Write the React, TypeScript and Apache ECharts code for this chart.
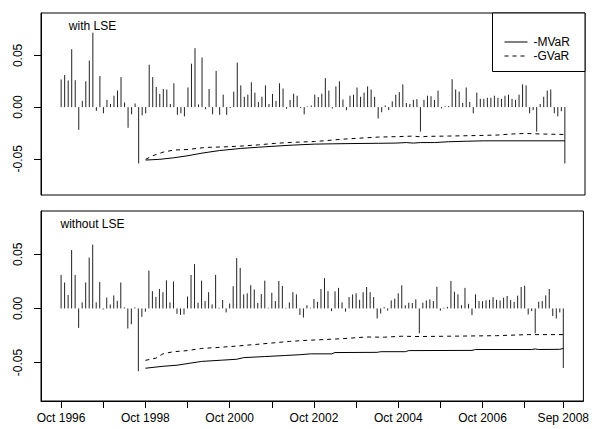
import React, { useEffect, useRef } from "react";
import * as echarts from "echarts";

// Monthly returns, Oct 1996 (index 0) .. Sep 2008 (index 143)
const withLSE: number[] = [
  0.0267, 0.031, 0.0257, 0.056, 0.026, -0.022, 0.006, 0.025, 0.045, 0.072,
  -0.0036, 0.03, -0.006, 0.007, 0.003, 0.011, 0.016, 0.029, 0.0045, -0.02,
  -0.007, 0.0035, -0.0546, -0.008, -0.006, 0.041, 0.029, 0.0195, 0.0127, 0.0175,
  0.017, 0.003, 0.023, -0.0075, -0.006, -0.009, 0.019, 0.042, 0.057, 0.0026,
  0.048, -0.002, 0.0175, -0.007, 0.035, -0.0075, 0.012, -0.0075, -0.001, 0.015,
  0.043, 0.021, 0.01, 0.012, 0.024, 0.014, 0.005, 0.01, 0.021, 0.003,
  0.0127, 0.006, 0.023, 0.018, -0.0016, 0.007, 0.013, 0.011, -0.001, -0.007,
  0.0006, 0.0016, 0.012, 0.0097, 0.013, 0.028, 0.016, -0.0013, 0.02, 0.025,
  0.0074, -0.003, 0.011, 0.012, 0.019, 0.01, 0.014, 0.02, 0.017, 0.01,
  -0.011, -0.005, 0.0016, -0.003, 0.0055, 0.012, 0.0145, 0.022, 0.004, 0.003,
  0.007, 0.0077, -0.0237, 0.007, 0.011, 0.0106, 0.007, 0.016, -0.0013, 0.0006,
  0.001, 0.027, 0.017, 0.015, 0.004, 0.019, 0.005, -0.006, 0.014, 0.008,
  0.008, 0.009, 0.009, 0.011, 0.009, 0.008, 0.011, 0.012, 0.008, 0.007,
  0.012, 0.022, 0.021, -0.006, -0.003, -0.0237, 0.003, 0.01, 0.016, 0.017,
  -0.006, -0.009, -0.004, -0.0546,
];

const withoutLSE: number[] = [
  0.031, 0.024, 0.0124, 0.054, 0.031, -0.018, 0.0056, 0.024, 0.047, 0.059,
  0.0056, 0.0245, -0.001, 0.01, 0.0037, 0.012, 0.007, 0.024, 0.001, -0.0186,
  -0.0146, 0.001, -0.058, -0.0078, -0.003, 0.035, 0.016, 0.0105, 0.018, 0.015,
  0.026, 0.0056, 0.025, -0.005, -0.006, -0.0056, 0.011, 0.031, 0.041, 0.0053,
  0.0257, 0.0068, 0.015, 0.0037, 0.031, 0.0006, 0.0078, -0.0037, 0.0045, 0.0205,
  0.0465, 0.0375, 0.013, 0.014, 0.0215, 0.0175, 0.005, 0.0133, 0.0257, 0.0006,
  0.0145, 0.0068, 0.0254, 0.0208, 0.0006, 0.0056, 0.015, 0.013, -0.006, -0.0084,
  0.003, 0.0006, 0.0087, 0.0062, 0.018, 0.028, 0.016, -0.0025, 0.0158, 0.019,
  0.0056, -0.003, 0.0105, 0.013, 0.014, 0.008, 0.015, 0.0198, 0.015, 0.0105,
  -0.0093, -0.0047, 0.0012, -0.002, 0.0074, 0.009, 0.014, 0.0214, 0.0028, 0.0053,
  0.005, 0.0084, -0.023, 0.0053, 0.0074, 0.0084, 0.0068, 0.02, -0.002, 0.0006,
  0.0015, 0.0255, 0.0155, 0.013, 0.003, 0.019, 0.0043, -0.0062, 0.013, 0.0068,
  0.0068, 0.0074, 0.008, 0.0105, 0.008, 0.0074, 0.0099, 0.0115, 0.0077, 0.006,
  0.0118, 0.0198, 0.021, -0.0056, -0.0025, -0.023, 0.0062, 0.0068, 0.012, 0.018,
  -0.0071, -0.0093, -0.0037, -0.055,
];

// [month index, value]
const withLSE_MVaR: [number, number][] = [
  [24, -0.0512], [28, -0.0505], [32, -0.049], [36, -0.047], [40, -0.0445],
  [45, -0.042], [51, -0.04], [56, -0.0388], [61, -0.0377], [66, -0.0367],
  [72, -0.0358], [77, -0.0355], [84, -0.0352], [90, -0.035], [95, -0.0348],
  [98, -0.0343], [100, -0.0348], [102, -0.0343], [106, -0.0343], [110, -0.0335],
  [115, -0.033], [120, -0.0326], [143, -0.0326],
];
const withLSE_GVaR: [number, number][] = [
  [24, -0.0505], [26, -0.047], [29, -0.0435], [32, -0.0415], [36, -0.041],
  [41, -0.039], [46, -0.0385], [51, -0.0377], [56, -0.0365], [61, -0.035],
  [66, -0.034], [72, -0.0333], [80, -0.031], [90, -0.029], [96, -0.0285],
  [100, -0.028], [102, -0.0288], [104, -0.0283], [110, -0.028], [118, -0.0275],
  [124, -0.027], [128, -0.026], [132, -0.0255], [136, -0.026], [143, -0.0265],
];
const withoutLSE_MVaR: [number, number][] = [
  [24, -0.0553], [29, -0.0535], [33, -0.0525], [37, -0.0505], [40, -0.049],
  [46, -0.0478], [50, -0.047], [52, -0.0455], [58, -0.0445], [64, -0.0435],
  [68, -0.0428], [71, -0.042], [77, -0.042], [78, -0.0408], [90, -0.0406],
  [91, -0.04], [98, -0.04], [99, -0.039], [117, -0.0388], [118, -0.038],
  [134, -0.038], [135, -0.0375], [136, -0.038], [142, -0.0378], [143, -0.037],
];
const withoutLSE_GVaR: [number, number][] = [
  [24, -0.048], [27, -0.046], [29, -0.042], [32, -0.04], [36, -0.039],
  [40, -0.037], [45, -0.036], [50, -0.0348], [55, -0.0334], [60, -0.032],
  [65, -0.0305], [70, -0.0295], [80, -0.028], [87, -0.0264], [92, -0.0266],
  [97, -0.0257], [102, -0.026], [110, -0.0257], [124, -0.0252], [133, -0.0242],
  [143, -0.0242],
];

const panelTitles = ["with LSE", "without LSE"];
const legendNames = ["-MVaR", "-GVaR"];
const yTicks = [-0.05, 0, 0.05];
const xTickMonths = [0, 12, 24, 36, 48, 60, 72, 84, 96, 108, 120, 132, 143];
const xLabelMonths = [0, 24, 48, 72, 96, 120, 143];
const xLabels = ["Oct 1996", "Oct 1998", "Oct 2000", "Oct 2002", "Oct 2004", "Oct 2006", "Sep 2008"];

const FONT = "Liberation Sans, Arial, Helvetica, sans-serif";

export default function App() {
  const ref = useRef<HTMLDivElement>(null);
  useEffect(() => {
    document.body.style.margin = "0";
    const chart = echarts.init(ref.current!, null, { renderer: "svg" });
    const nMonths = withLSE.length;
    const pad = (nMonths - 1) * 0.04;
    const xMin = -pad;
    const xMax = nMonths - 1 + pad;

    const spikes = (vals: number[], idx: number) => ({
      type: "custom",
      xAxisIndex: idx,
      yAxisIndex: idx,
      silent: true,
      data: vals.map((v, i) => [i, v]),
      renderItem: (params: any, api: any) => {
        const x = api.value(0);
        const v = api.value(1);
        const p0 = api.coord([x, 0]);
        const p1 = api.coord([x, v]);
        return {
          type: "line",
          shape: { x1: p0[0], y1: p0[1], x2: p1[0], y2: p1[1] },
          style: { stroke: "#222", lineWidth: 1 },
        };
      },
      z: 2,
    });
    const line = (name: string, data: [number, number][], idx: number, dashed: boolean) => ({
      type: "line",
      name,
      xAxisIndex: idx,
      yAxisIndex: idx,
      data,
      symbol: "none",
      silent: true,
      lineStyle: { color: "#000", width: 1, type: dashed ? [4, 4] : "solid" },
      itemStyle: { color: "#000" },
      z: 3,
    });

    const yAxis = (idx: number, min: number, max: number) => ({
      type: "value",
      gridIndex: idx,
      min,
      max,
      splitLine: { show: false },
      axisLine: { show: true, onZero: false, lineStyle: { color: "#000", width: 1 } },
      axisTick: { show: true, inside: false, length: 7, lineStyle: { color: "#000" }, customValues: yTicks },
      axisLabel: {
        show: true,
        rotate: 90,
        margin: 17,
        fontSize: 12,
        fontFamily: FONT,
        color: "#000",
        customValues: yTicks,
        formatter: (v: number) => v.toFixed(2),
      },
    });

    chart.setOption({
      animation: false,
      backgroundColor: "#fff",
      grid: [
        { left: 41, top: 13, width: 544, height: 182, show: true, borderColor: "#000", borderWidth: 1, backgroundColor: "transparent" },
        { left: 41, top: 211, width: 544, height: 190, show: true, borderColor: "#000", borderWidth: 1, backgroundColor: "transparent" },
      ],
      xAxis: [
        {
          type: "value", gridIndex: 0, min: xMin, max: xMax,
          splitLine: { show: false }, axisLine: { show: false }, axisTick: { show: false }, axisLabel: { show: false },
        },
        {
          type: "value", gridIndex: 1, min: xMin, max: xMax,
          position: "bottom",
          splitLine: { show: false },
          axisLine: { show: true, onZero: false, lineStyle: { color: "#000", width: 1 } },
          axisTick: { show: true, inside: false, length: 7, lineStyle: { color: "#000" }, customValues: xTickMonths },
          axisLabel: {
            show: true, margin: 11, fontSize: 12, fontFamily: FONT, color: "#000",
            customValues: xLabelMonths,
            formatter: (v: number) => {
              const k = xLabelMonths.indexOf(Math.round(v));
              return k >= 0 ? xLabels[k] : "";
            },
          },
        },
      ],
      yAxis: [yAxis(0, -0.085, 0.091), yAxis(1, -0.0856, 0.0901)],
      legend: {
        show: true,
        z: 20,
        data: legendNames,
        orient: "vertical",
        left: 504,
        top: 36,
        padding: 0,
        itemGap: 2,
        itemWidth: 23,
        itemHeight: 14,
        selectedMode: false,
        itemStyle: { opacity: 0 },
        lineStyle: { width: 1 },
        textStyle: { fontSize: 12, fontFamily: FONT, color: "#000", padding: [0, 0, 0, 1] },
      },
      graphic: [
        {
          type: "rect",
          shape: { x: 492.5, y: 13, width: 92.5, height: 58.5 },
          style: { fill: "#fff", stroke: "#000", lineWidth: 1 },
          z: 1,
          silent: true,
        },
        {
          type: "text",
          x: 92.5, y: 26,
          style: { text: panelTitles[0], fontSize: 12, fontFamily: FONT, fill: "#000", align: "center", verticalAlign: "middle" },
          z: 10,
        },
        {
          type: "text",
          x: 92.5, y: 224,
          style: { text: panelTitles[1], fontSize: 12, fontFamily: FONT, fill: "#000", align: "center", verticalAlign: "middle" },
          z: 10,
        },
      ],
      series: [
        spikes(withLSE, 0),
        line(legendNames[0], withLSE_MVaR, 0, false),
        line(legendNames[1], withLSE_GVaR, 0, true),
        spikes(withoutLSE, 1),
        line(legendNames[0], withoutLSE_MVaR, 1, false),
        line(legendNames[1], withoutLSE_GVaR, 1, true),
      ],
    });
    return () => chart.dispose();
  }, []);
  return <div ref={ref} style={{ width: 592, height: 429 }} />;
}
